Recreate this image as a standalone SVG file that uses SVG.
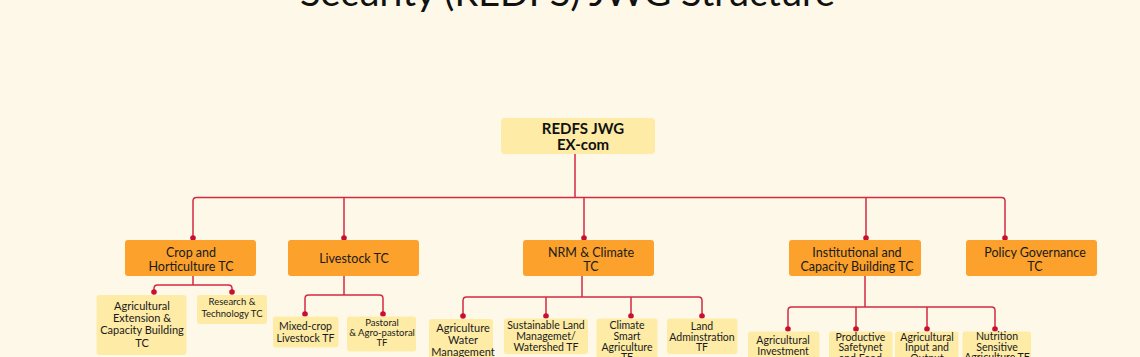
<svg xmlns="http://www.w3.org/2000/svg" width="1140" height="357" viewBox="0 0 1140 357">
<defs>
<style>
.bg{fill:#FEF8E8}
.title{font-family:Lato,"Open Sans","Liberation Sans",sans-serif;font-size:36px;fill:#111;text-anchor:middle}
.top rect{fill:#FDEBA6}
.top text{font-family:Lato,"Liberation Sans",sans-serif;font-weight:bold;font-size:15px;fill:#111;text-anchor:middle}
.tc rect{fill:#FBA12C}
.tc text{font-family:Lato,"Liberation Sans",sans-serif;font-size:12.5px;fill:#1a1a1a;text-anchor:middle}
.sub rect{fill:#FDEBA6}
.sub text{font-family:Lato,"Liberation Sans",sans-serif;font-size:11px;fill:#1a1a1a;text-anchor:middle}
.sub text.s{font-size:9.5px}
.sub text.m{font-size:10.5px}
.conn path{fill:none;stroke:#D42A40;stroke-width:1.5}
.conn circle{fill:#C8102E}
</style>
</defs>
<rect class="bg" x="0" y="0" width="1140" height="357"/>
<text class="title" x="567.5" y="6" textLength="535" lengthAdjust="spacingAndGlyphs">Security (REDFS) JWG Structure</text>

<g id="connectors" class="conn">
<path d="M575 154 V197.5"/>
<path d="M193 238 V201 Q193 197.5 196.5 197.5 H1001.5 Q1005 197.5 1005 201 V238"/>
<path d="M344 197.5 V238"/>
<path d="M584 197.5 V238"/>
<path d="M866 197.5 V238"/>
<circle cx="193" cy="238" r="2.8"/>
<circle cx="344" cy="238" r="2.8"/>
<circle cx="584" cy="238" r="2.8"/>
<circle cx="866" cy="238" r="2.8"/>
<circle cx="1005" cy="238" r="2.8"/>
<path d="M193 276 V285"/>
<path d="M154 292 V288.5 Q154 285 157.5 285 H228.5 Q232 285 232 288.5 V292"/>
<circle cx="154" cy="292" r="2.8"/>
<circle cx="232" cy="292" r="2.8"/>
<path d="M344 276 V295"/>
<path d="M305 314 V298.5 Q305 295 308.5 295 H379.5 Q383 295 383 298.5 V314"/>
<circle cx="305" cy="314" r="2.8"/>
<circle cx="383" cy="314" r="2.8"/>
<path d="M582 276 V297"/>
<path d="M463 316 V300.5 Q463 297 466.5 297 H698.5 Q702 297 702 300.5 V316"/>
<path d="M546 297 V316"/>
<path d="M631 297 V316"/>
<circle cx="463" cy="316" r="2.8"/>
<circle cx="546" cy="316" r="2.8"/>
<circle cx="631" cy="316" r="2.8"/>
<circle cx="702" cy="316" r="2.8"/>
<path d="M865 276 V307"/>
<path d="M788 329 V310.5 Q788 307 791.5 307 H991.5 Q995 307 995 310.5 V329"/>
<path d="M856 307 V329"/>
<path d="M927 307 V329"/>
<circle cx="788" cy="329" r="2.8"/>
<circle cx="856" cy="329" r="2.8"/>
<circle cx="927" cy="329" r="2.8"/>
<circle cx="995" cy="329" r="2.8"/>
</g>

<g id="exec" class="top">
<rect x="501" y="118" width="154" height="36" rx="4"/>
<text x="583" y="133.5">REDFS JWG</text>
<text x="583" y="149.5">EX-com</text>
</g>

<g id="crop" class="tc">
<rect x="125" y="240" width="131" height="36" rx="3"/>
<text x="191" y="256.5">Crop and</text>
<text x="191" y="271">Horticulture TC</text>
</g>
<g id="livestock" class="tc">
<rect x="288" y="240" width="131" height="36" rx="3"/>
<text x="354" y="262.5">Livestock TC</text>
</g>
<g id="nrm" class="tc">
<rect x="523" y="240" width="131" height="36" rx="3"/>
<text x="591" y="256.5">NRM &amp; Climate</text>
<text x="591" y="271">TC</text>
</g>
<g id="institutional" class="tc">
<rect x="789" y="240" width="132" height="36" rx="3"/>
<text x="857" y="256.5">Institutional and</text>
<text x="857" y="271">Capacity Building TC</text>
</g>
<g id="policy" class="tc">
<rect x="966" y="240" width="131" height="36" rx="3"/>
<text x="1035" y="256.5">Policy Governance</text>
<text x="1035" y="271">TC</text>
</g>

<g id="ext" class="sub">
<rect x="96.5" y="295" width="90" height="60" rx="3"/>
<text x="142" y="310">Agricultural</text>
<text x="142" y="322.3">Extension &amp;</text>
<text x="142" y="334">Capacity Building</text>
<text x="142" y="346.5">TC</text>
</g>
<g id="research" class="sub">
<rect x="197" y="295" width="70" height="29" rx="3"/>
<text class="s" x="232" y="305">Research &amp;</text>
<text class="s" x="232" y="316.7">Technology TC</text>
</g>
<g id="mixed" class="sub">
<rect x="273" y="316.5" width="65.5" height="31" rx="3"/>
<text class="m" x="305.5" y="330">Mixed-crop</text>
<text class="m" x="305.5" y="341.7">Livestock TF</text>
</g>
<g id="pastoral" class="sub">
<rect x="347" y="316.5" width="69" height="35" rx="3"/>
<text class="s" x="382" y="325.7">Pastoral</text>
<text class="s" x="382" y="336">&amp; Agro-pastoral</text>
<text class="s" x="382" y="346">TF</text>
</g>
<g id="water" class="sub">
<rect x="429" y="319" width="64" height="45" rx="3"/>
<text x="463" y="331.7">Agriculture</text>
<text x="463" y="343.5">Water</text>
<text x="463" y="355.7">Management</text>
</g>
<g id="land" class="sub">
<rect x="504" y="318.5" width="84" height="35.5" rx="3"/>
<text class="m" x="546" y="329.3">Sustainable Land</text>
<text class="m" x="546" y="340">Managemet/</text>
<text class="m" x="546" y="350.5">Watershed TF</text>
</g>
<g id="climate" class="sub">
<rect x="596.5" y="318.5" width="61" height="45" rx="3"/>
<text class="m" x="627" y="329.3">Climate</text>
<text class="m" x="627" y="340">Smart</text>
<text class="m" x="627" y="350.5">Agriculture</text>
<text class="m" x="627" y="361">TF</text>
</g>
<g id="landadmin" class="sub">
<rect x="667" y="318.5" width="70.5" height="35.5" rx="3"/>
<text class="m" x="702" y="330">Land</text>
<text class="m" x="702" y="340.7">Adminstration</text>
<text class="m" x="702" y="351">TF</text>
</g>
<g id="investment" class="sub">
<rect x="748" y="331.5" width="71.5" height="35" rx="3"/>
<text class="m" x="783" y="344.3">Agricultural</text>
<text class="m" x="783" y="354.8">Investment</text>
</g>
<g id="safetynet" class="sub">
<rect x="829" y="331.5" width="63.5" height="35" rx="3"/>
<text class="m" x="860.5" y="341">Productive</text>
<text class="m" x="860.5" y="351.3">Safetynet</text>
<text class="m" x="860.5" y="361.8">and Food</text>
</g>
<g id="input" class="sub">
<rect x="895" y="331.5" width="63.5" height="35" rx="3"/>
<text class="m" x="927" y="341">Agricultural</text>
<text class="m" x="927" y="351.3">Input and</text>
<text class="m" x="927" y="361.8">Output</text>
</g>
<g id="nutrition" class="sub">
<rect x="962.5" y="331.5" width="68.5" height="35" rx="3"/>
<text class="m" x="997" y="340.3">Nutrition</text>
<text class="m" x="997" y="350.6">Sensitive</text>
<text class="m" x="997" y="361">Agriculture TF</text>
</g>
</svg>
